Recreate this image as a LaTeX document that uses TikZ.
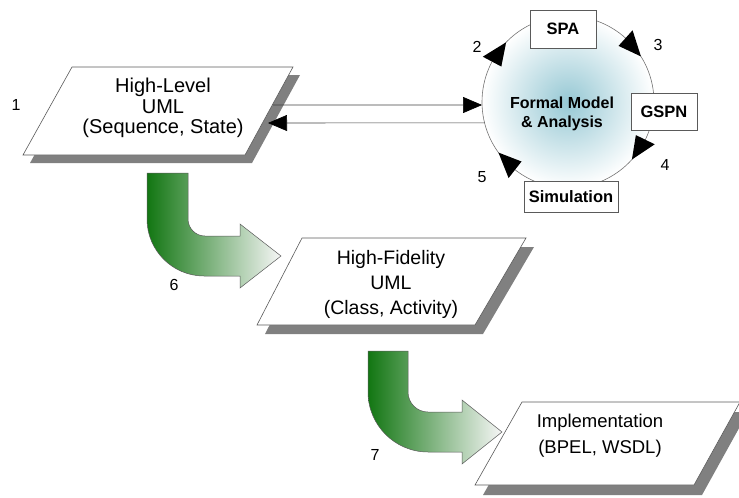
\documentclass[tikz,border=0pt]{standalone}
\usepackage{fontspec}
\setmainfont{Liberation Sans}
\usetikzlibrary{arrows.meta}
\definecolor{shadowgray}{RGB}{128,128,128}
\definecolor{edgegray}{RGB}{90,90,90}
\definecolor{darkgreen}{RGB}{18,118,18}
\definecolor{lightend}{RGB}{246,246,246}
\definecolor{fmblue}{RGB}{150,200,212}
\tikzset{
  paraface/.style={draw=edgegray, line width=0.6pt, fill=white},
  parashadow/.style={fill=shadowgray},
  bigtext/.style={align=center, inner sep=0pt},
  numtext/.style={font=\fontsize{16}{18}\selectfont, inner sep=0pt},
  boxtext/.style={draw=edgegray, line width=0.6pt, fill=white, font=\bfseries\fontsize{16.5}{18}\selectfont, inner sep=0pt},
  tip/.style={-{Triangle[length=19pt,width=16pt,color=black,fill=black]}},
  circhead/.style={fill=black},
  flowarrow/.style={draw=edgegray, line width=0.5pt, left color=darkgreen, right color=lightend},
  conn/.style={draw=black!75, line width=0.6pt}
}
\newcommand{\circhead}[1]{%
  \fill[circhead] ([shift={(#1-8:86)}]fm.center) -- ([shift={(#1+8:75.5)}]fm.center) -- ([shift={(#1+8:96.5)}]fm.center) -- cycle;}
\begin{document}
\begin{tikzpicture}[x=1pt,y=1pt]
\useasboundingbox (0,0) rectangle (739,-498);
% ---------- parallelogram 1
\coordinate (a1) at (72,-67);
\coordinate (b1) at (293,-67);
\coordinate (c1) at (245,-155);
\coordinate (d1) at (23,-155);
\fill[parashadow] ([shift={(7,-8)}]a1) -- ([shift={(7,-8)}]b1) -- ([shift={(7,-8)}]c1) -- ([shift={(7,-8)}]d1) -- cycle;
\draw[paraface] (a1) -- (b1) -- (c1) -- (d1) -- cycle;
\node[bigtext, font=\fontsize{20}{20.5}\selectfont] (hl) at (163,-108) {High-Level\\UML\\(Sequence, State)};
\node[numtext] (n1) at (16,-105) {1};
% ---------- parallelogram 2
\coordinate (a2) at (302,-238);
\coordinate (b2) at (526,-238);
\coordinate (c2) at (475,-325);
\coordinate (d2) at (257,-325);
\fill[parashadow] ([shift={(8,-9)}]a2) -- ([shift={(8,-9)}]b2) -- ([shift={(8,-9)}]c2) -- ([shift={(8,-9)}]d2) -- cycle;
\draw[paraface] (a2) -- (b2) -- (c2) -- (d2) -- cycle;
\node[bigtext, font=\fontsize{19.5}{25}\selectfont] (hf) at (391,-284) {High-Fidelity\\UML\\(Class, Activity)};
% ---------- parallelogram 3
\coordinate (a3) at (522,-402);
\coordinate (b3) at (740,-402);
\coordinate (c3) at (694,-485);
\coordinate (d3) at (475,-485);
\fill[parashadow] ([shift={(8,-10)}]a3) -- ([shift={(8,-10)}]b3) -- ([shift={(8,-10)}]c3) -- ([shift={(8,-10)}]d3) -- cycle;
\draw[paraface] (a3) -- (b3) -- (c3) -- (d3) -- cycle;
\node[bigtext, font=\fontsize{18.5}{26}\selectfont] (im) at (600,-436) {Implementation\\(BPEL, WSDL)};
% ---------- formal model circle
\node[circle, minimum size=172pt, inner sep=0pt, outer sep=0pt, draw=black!55, line width=0.6pt,
      inner color=fmblue, outer color=white] (fm) at (568,-102) {};
\node[align=center, font=\bfseries\fontsize{16}{19}\selectfont, inner sep=0pt] (fmt) at (562,-114) {Formal Model\\\& Analysis};
% arrowheads on circle (clockwise)
\circhead{144}
\circhead{40}
\circhead{-34}
\circhead{-136}
% boxes
\node[boxtext, minimum width=66pt, minimum height=38pt] (spa) at (563,-29) {SPA};
\node[boxtext, minimum width=66pt, minimum height=37pt] (gspn) at (664,-111.5) {GSPN};
\node[boxtext, minimum width=94pt, minimum height=31pt] (sim) at (571,-196.5) {Simulation};
\node[numtext] (n2) at (477,-47) {2};
\node[numtext] (n3) at (658,-45) {3};
\node[numtext] (n4) at (665,-165) {4};
\node[numtext] (n5) at (482,-177) {5};
% ---------- connectors between UML and circle
\coordinate (p1out) at (273,-105);
\coordinate (p1in) at (268,-123);
\draw[conn, tip] (p1out) -- (fm.182);
\draw[conn, tip] (fm.194) -- (p1in);
% ---------- green flow arrows
\path[flowarrow] (147,-173) -- (147,-219) arc[start angle=180, end angle=270, radius=57]
  -- (240,-276) -- (240,-288) -- (281,-256) -- (240,-224) -- (240,-236) -- (205,-236)
  arc[start angle=270, end angle=180, radius=17] -- (188,-173) -- cycle;
\node[numtext] (n6) at (174,-285) {6};
\path[flowarrow] (368,-351) -- (368,-392) arc[start angle=180, end angle=270, radius=60]
  -- (462,-452) -- (462,-464) -- (502,-432) -- (462,-400) -- (462,-412) -- (428,-412)
  arc[start angle=270, end angle=180, radius=20] -- (408,-351) -- cycle;
\node[numtext] (n7) at (375,-455) {7};
\end{tikzpicture}
\end{document}
